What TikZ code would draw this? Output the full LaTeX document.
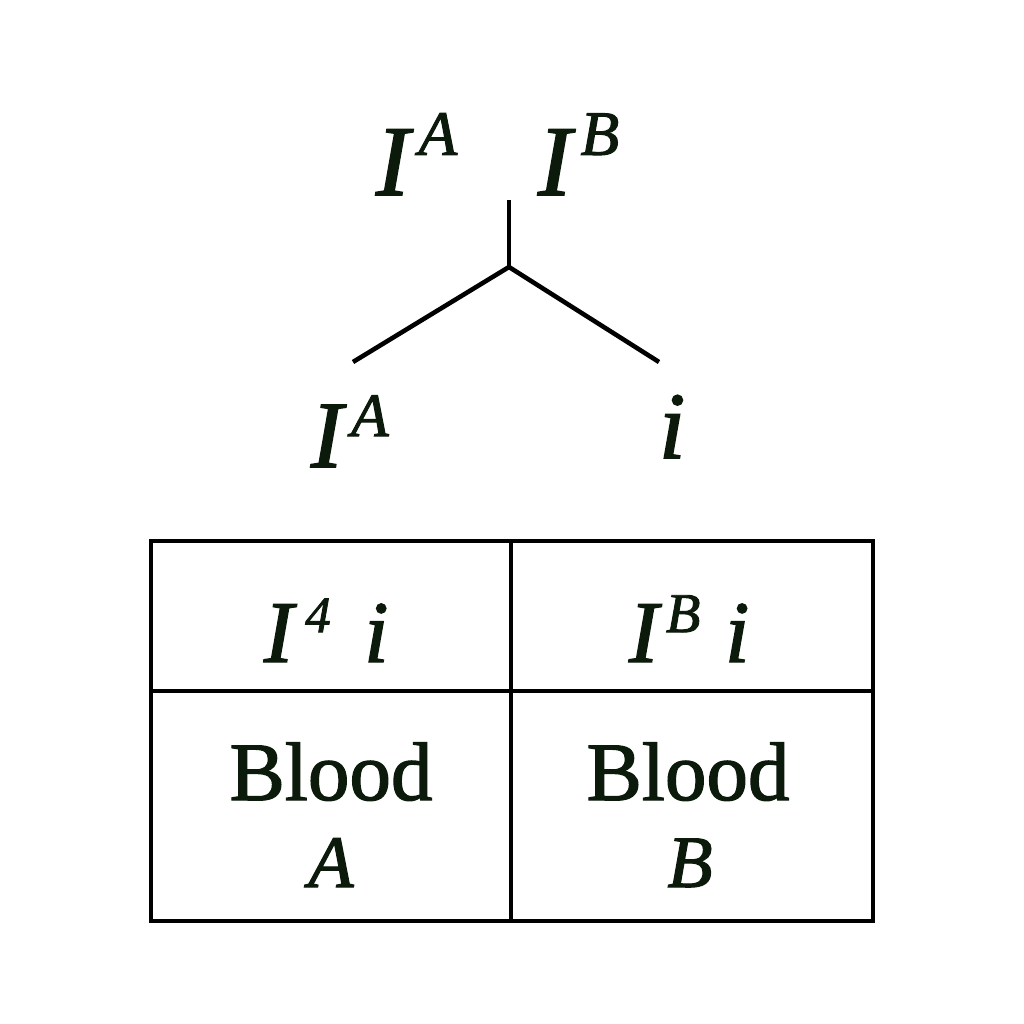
\documentclass[tikz,border=0pt]{standalone}
\usepackage{fontspec}
\usepackage{graphicx}
\setmainfont{Liberation Serif}
\definecolor{ink}{RGB}{12,26,12}
\newcommand\heavier{\addfontfeature{FakeBold=1.6}}
\begin{document}
\begin{tikzpicture}[x=0.01cm,y=-0.01cm,
  txt/.style={inner sep=0pt, outer sep=0pt, text=ink},
  branch/.style={line width=1.3pt, black},
  tbl/.style={line width=1.3pt, black}]
\useasboundingbox[fill=white] (0,0) rectangle (1024,1024);
% parent alleles
\node[txt, anchor=base west] (pA) at (376,195)
  {\fontsize{28.5}{30}\selectfont\itshape\heavier I\kern2.6pt\raisebox{11.4pt}{\fontsize{18}{20}\selectfont\heavier A}};
\node[txt, anchor=base west] (pB) at (538,195)
  {\fontsize{28.5}{30}\selectfont\itshape\heavier I\kern2.6pt\raisebox{11.4pt}{\fontsize{18}{20}\selectfont\heavier B}};
% tree
\coordinate (top) at (509,200);
\coordinate (fork) at (509,267);
\coordinate (lend) at (353,362);
\coordinate (rend) at (659,362);
\draw[branch] (top) -- (fork);
\draw[branch, line join=miter] (lend) -- (fork) -- (rend);
% gametes
\node[txt, anchor=base west] (gA) at (311,467)
  {\fontsize{27}{29}\selectfont\itshape\heavier I\kern2.4pt\raisebox{8.8pt}{\fontsize{17.5}{19}\selectfont\heavier A}};
\node[txt, anchor=base west] (gi) at (659,458)
  {\fontsize{27}{29}\selectfont\itshape\heavier i};
% table
\draw[tbl] (151,541) rectangle (873,921);
\draw[tbl] (511,541) -- (511,921);
\draw[tbl] (151,691) -- (873,691);
\node[txt, anchor=base west] (c1) at (264,662)
  {\fontsize{25}{27}\selectfont\itshape\heavier I\kern3.4pt\raisebox{8.5pt}{\fontsize{14.5}{16}\selectfont\heavier 4}\hspace{9.5pt}i};
\node[txt, anchor=base west] (c2) at (629,662)
  {\fontsize{25}{27}\selectfont\itshape\heavier I\kern2.2pt\raisebox{8.5pt}{\fontsize{16}{17}\selectfont\heavier B}\hspace{7pt}i};
\node[txt, anchor=base] (b1) at (331,800) {\fontsize{23.6}{25}\selectfont\heavier Blood};
\node[txt, anchor=base] (b2) at (688,800) {\fontsize{23.6}{25}\selectfont\heavier Blood};
\node[txt, anchor=base] (t1) at (331,887) {\fontsize{21}{23}\selectfont\itshape\heavier A};
\node[txt, anchor=base] (t2) at (690,887) {\fontsize{21}{23}\selectfont\itshape\heavier B};
\end{tikzpicture}
\end{document}
